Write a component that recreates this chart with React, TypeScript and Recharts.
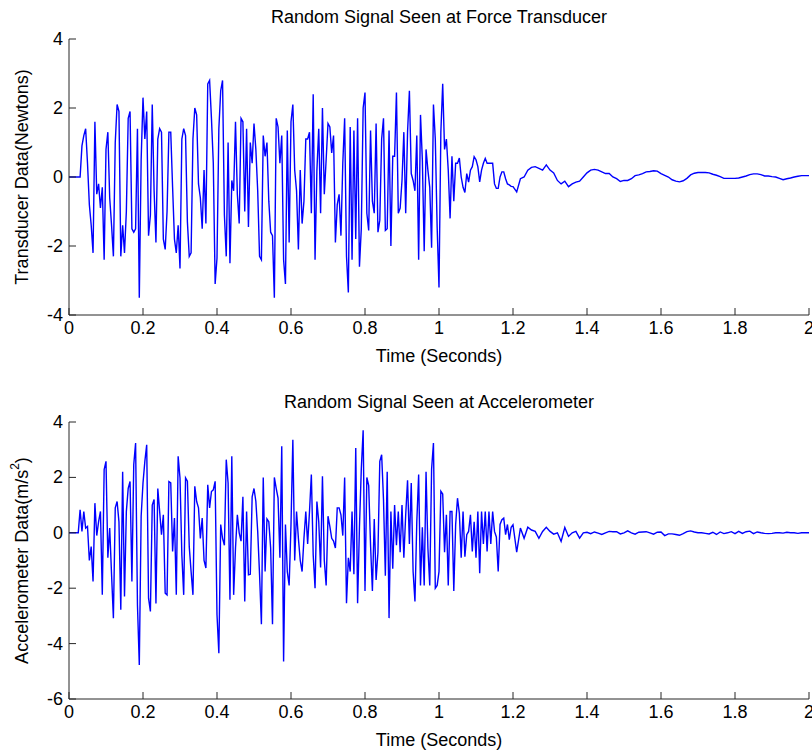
import { LineChart, Line, XAxis, YAxis } from 'recharts'

// sampling: dense part every 5 ms up to 1.2 s, then every 10 ms to 2 s
const BURST_STEP = 0.005
const DECAY_START = 1.21
const DECAY_STEP = 0.01

// force transducer, 0 .. 1.2 s
const forceBurst = [
  0, 0, 0, 0, 0, 0, 0, 0.9, 1.2, 1.4,
  0.4, -0.8, -1.4, -2.2, 1.6, -0.5, -0.2, -0.9, -0.3, -2.4,
  0.8, 1.3, -0.6, -1.4, -2.3, 1.0, 2.1, 1.9, -2.3, -1.4,
  -2.2, -1.0, 1.7, 1.9, -1.5, -1.6, -1.5, 1.4, -3.5, 0.5,
  2.3, 1.1, 1.9, -1.7, -1.1, 2.1, -0.4, -1.9, 1.1, 1.4,
  1.3, -1.8, -2.1, -1.0, 1.3, 1.3, -0.3, -1.8, -2.2, -1.4,
  -2.65, 1.1, 1.4, 1.2, -1.3, -2.3, -2.2, 1.1, 2.0, 1.8,
  -0.2, -0.6, -1.5, 0.2, -1.35, 2.7, 2.8, 1.7, 0.4, -3.1,
  -2.35, 1.4, 2.5, 2.8, -1.1, -2.3, 1.0, -2.5, -0.1, -0.4,
  1.6, -0.5, -1.35, 1.7, 1.6, -1.0, 1.4, -1.45, 1.0, 0.4,
  1.55, 0.8, -0.4, -2.3, -2.4, 1.2, 0.6, 1.0, -0.7, -1.6,
  -1.7, -3.5, 1.7, 1.45, 0.4, 1.2, -2.4, -3.1, 1.35, -1.9,
  1.6, 2.1, 0.2, -0.4, -2.1, 0.2, -1.35, -0.7, 1.1, 1.1,
  1.3, -1.05, 2.4, -2.4, 0.2, 1.4, -1.05, 2.0, -0.5, 0.5,
  1.55, 1.45, 0.7, 1.2, -1.9, -0.8, -0.5, -1.7, 0.4, 1.7,
  -2.3, -3.35, 1.45, -2.4, 1.35, -1.8, 1.7, -2.6, -1.5, 2.0,
  2.45, -1.05, -1.55, 1.35, -0.7, -1.05, 1.55, -1.6, -1.25, 1.1,
  1.7, -1.55, -1.5, 1.35, -2.0, 0.6, 0.6, 2.45, -1.05, -0.9,
  -0.1, 1.3, -1.05, 1.3, 2.5, 0.1, -0.1, -0.4, 1.2, -2.4,
  1.8, 0.5, -2.15, 0.8, 0.2, -0.3, -2.05, 2.1, 1.1, -1.45,
  -3.2, 1.3, 2.7, 0.8, 1.1, 0.2, -1.2, 0.6, -0.7, 0.4,
  0.4, 0.55, 0.0, -0.3, -0.45, 0.1, -0.15, 0.2, 0.3, 0.59,
  0.5, 0.3, -0.14, 0.2, 0.4, 0.54, 0.4, 0.4, 0.4, 0.4,
  -0.2, -0.33, -0.33, 0.0, 0.15, 0.15, -0.05, -0.2, -0.23, -0.27, -0.28,
]

// force transducer, 1.21 .. 2.0 s
const forceDecay = [
  -0.43, -0.05, 0.0, 0.2, 0.28, 0.3, 0.25, 0.2, 0.35, 0.2,
  0.12, -0.1, -0.2, -0.12, -0.28, -0.2, -0.15, -0.12, 0.0, 0.12,
  0.2, 0.22, 0.2, 0.15, 0.1, 0.1, 0.0, -0.05, -0.13, -0.1,
  -0.1, -0.05, 0.04, 0.06, 0.1, 0.15, 0.16, 0.18, 0.17, 0.1,
  0.05, 0.0, -0.08, -0.12, -0.14, -0.11, -0.04, 0.06, 0.11, 0.13,
  0.13, 0.13, 0.12, 0.08, 0.05, 0.01, -0.04, -0.04, -0.04, -0.04,
  -0.03, 0.0, 0.03, 0.07, 0.09, 0.09, 0.07, 0.03, 0.03, 0.01,
  0.0, -0.04, -0.08, -0.05, -0.03, 0.0, 0.02, 0.04, 0.04, 0.04,
]

// accelerometer, 0 .. 1.2 s
const accelBurst = [
  0, 0, 0, 0, 0, 0, 0.83, 0.05, 0.77, 0.17,
  0.23, -1.0, -0.5, -1.76, 1.07, -0.1, 0.4, 0.77, -2.24, 2.28,
  2.58, -0.9, 0.17, -1.5, -3.08, 0.9, 1.13, 0.4, -2.78, 2.2,
  -2.3, 0.77, 1.6, 1.85, -1.76, 2.46, 3.24, -2.6, -4.77, 0.6,
  1.8, 2.58, 3.18, -2.36, -2.84, 1.0, 1.2, -2.55, 1.6, 0.77,
  -0.07, 0.65, -2.18, -2.24, 1.85, 1.8, -0.67, 0.53, -2.24, 2.76,
  1.98, -0.8, -2.24, 1.98, 1.86, -0.5, -1.4, -2.24, 1.68, 1.13,
  0.9, -0.2, 0.53, -1.0, -1.27, 1.73, 0.9, 1.49, 1.55, 1.86,
  -2.96, -4.35, 0.3, -0.2, -0.45, 2.64, 1.8, -2.42, 2.76, -2.24,
  -0.55, 0.65, 0.0, -0.3, 1.3, -2.48, 0.77, -1.52, -1.5, 1.3,
  1.6, 1.14, 0.05, -1.5, -3.3, 2.0, -1.4, 0.5, 0.4, -0.55,
  -3.3, 2.0, 1.6, 1.25, -0.9, 3.12, -4.65, 0.3, -1.4, -1.9,
  0.3, 3.36, -1.0, 0.77, -0.2, -1.0, -1.4, -0.2, 0.77, -0.4,
  0.77, 2.1, -0.8, -2.0, 1.13, 0.4, -1.25, 2.04, -1.0, -1.9,
  0.6, 0.23, -0.2, -0.3, -0.55, 0.9, 0.9, 0.65, -0.1, 2.0,
  -2.54, -0.9, -1.4, 0.77, -1.5, 3.06, -2.54, 0.2, 2.3, 3.7,
  -2.1, 2.0, 1.7, -0.45, -2.1, 0.5, -1.7, -0.7, 2.58, 2.82,
  1.2, -1.55, 2.2, -3.08, 0.77, -1.3, 1.0, -0.45, 0.77, -0.7,
  1.0, -0.9, 0.65, 1.9, -0.4, 1.8, -1.4, -2.48, 0.4, 2.1,
  -1.9, 0.2, -1.9, 2.2, -0.55, -1.9, 2.3, 3.24, -2.0, -1.9,
  -1.4, 1.5, 1.4, -0.7, 0.65, -1.9, 0.77, 0.77, -2.1, 0.3,
  1.25, 0.7, -0.9, 0.77, -0.86, -0.07, 0.05, 0.65, -0.67, 0.4,
  -0.9, 0.77, -1.46, 0.77, -0.4, 0.77, -0.67, 0.77, -0.4, 0.77,
  0.05, -0.15, -1.4, 0.3, 0.47, 0.53, -0.07, 0.3, -0.25, 0.2, 0.29,
]

// accelerometer, 1.21 .. 2.0 s
const accelDecay = [
  -0.7, 0.17, -0.2, 0.2, 0.1, 0.05, -0.2, 0.05, 0.2, 0.05,
  -0.05, 0.0, -0.31, 0.19, -0.13, 0.0, 0.05, -0.19, 0.0, 0.02,
  -0.03, 0.03, -0.01, -0.06, 0.0, 0.05, 0.04, 0.04, -0.04, 0.0,
  0.07, 0.0, -0.05, 0.02, 0.03, 0.04, 0.0, -0.05, 0.02, 0.03,
  -0.1, -0.04, -0.04, -0.06, -0.09, -0.03, 0.04, 0.07, 0.03, 0.0,
  0.0, -0.02, -0.04, 0.02, -0.06, 0.03, -0.03, 0.0, 0.04, -0.03,
  0.05, -0.02, 0.04, 0.06, -0.03, 0.03, 0.0, -0.02, -0.03, -0.02,
  0.0, 0.0, -0.01, 0.02, 0.0, 0.0, -0.02, 0.0, 0.0, 0.0,
]

const timeTicks = [0, 0.2, 0.4, 0.6, 0.8, 1, 1.2, 1.4, 1.6, 1.8, 2]
const forceTicks = [-4, -2, 0, 2, 4]
const accelTicks = [-6, -4, -2, 0, 2, 4]

const FONT = '"Liberation Sans", Arial, sans-serif'
const FONT_SIZE = 18
const AXIS = '#262626'
const BLUE = '#0000ff'
const TICK_LEN = 7

function toSeries(burst: number[], decay: number[]) {
  return [
    ...burst.map((v, i) => ({ t: +(i * BURST_STEP).toFixed(3), v })),
    ...decay.map((v, i) => ({ t: +(DECAY_START + i * DECAY_STEP).toFixed(2), v })),
  ]
}

const forceData = toSeries(forceBurst, forceDecay)
const accelData = toSeries(accelBurst, accelDecay)

const textProps = { fill: '#000', fontSize: FONT_SIZE, fontFamily: FONT }

// matlab style: ticks point into the box
function BottomTick({ x, y, payload }: any) {
  return (
    <g>
      <line x1={x} x2={x} y1={y} y2={y - TICK_LEN} stroke={AXIS} />
      <text x={x} y={y + 13} textAnchor="middle" dominantBaseline="central" {...textProps}>
        {payload.value}
      </text>
    </g>
  )
}

function TopTick({ x, y }: any) {
  return <line x1={x} x2={x} y1={y} y2={y + TICK_LEN} stroke={AXIS} />
}

function LeftTick({ x, y, payload }: any) {
  return (
    <g>
      <line x1={x} x2={x + TICK_LEN} y1={y} y2={y} stroke={AXIS} />
      <text x={x - 6} y={y} textAnchor="end" dominantBaseline="central" {...textProps}>
        {payload.value}
      </text>
    </g>
  )
}

function RightTick({ x, y }: any) {
  return <line x1={x} x2={x - TICK_LEN} y1={y} y2={y} stroke={AXIS} />
}

function XLabel({ viewBox }: any) {
  return (
    <text
      x={viewBox.x + viewBox.width / 2}
      y={viewBox.y + 41}
      textAnchor="middle"
      dominantBaseline="central"
      {...textProps}
    >
      Time (Seconds)
    </text>
  )
}

function YLabel({ viewBox, text, sup }: any) {
  const cx = viewBox.x + 22
  const cy = viewBox.y + viewBox.height / 2
  return (
    <text
      x={cx}
      y={cy}
      transform={`rotate(-90 ${cx} ${cy})`}
      textAnchor="middle"
      dominantBaseline="central"
      {...textProps}
    >
      {text}
      {sup && (
        <tspan baselineShift="super" fontSize={12}>
          {sup}
        </tspan>
      )}
      {sup && ')'}
    </text>
  )
}

type PanelProps = {
  data: { t: number; v: number }[]
  top: number
  marginTop: number
  marginBottom: number
  yDomain: [number, number]
  yTicks: number[]
  yLabel: any
}

function Panel({ data, top, marginTop, marginBottom, yDomain, yTicks, yLabel }: PanelProps) {
  return (
    <div style={{ position: 'absolute', left: 0, top }}>
      <LineChart
        width={812}
        height={375}
        data={data}
        margin={{ top: marginTop, right: 3, bottom: marginBottom, left: 0 }}
      >
        <XAxis
          dataKey="t"
          type="number"
          domain={[0, 2]}
          ticks={timeTicks}
          interval={0}
          height={40}
          stroke={AXIS}
          tickLine={false}
          tickSize={0}
          tickMargin={0}
          tick={(p: any) => <BottomTick {...p} />}
          label={<XLabel />}
        />
        <XAxis
          xAxisId="top"
          orientation="top"
          dataKey="t"
          type="number"
          domain={[0, 2]}
          ticks={timeTicks}
          interval={0}
          height={0}
          stroke={AXIS}
          tickLine={false}
          tickSize={0}
          tickMargin={0}
          tick={(p: any) => <TopTick {...p} />}
        />
        <YAxis
          type="number"
          domain={yDomain}
          ticks={yTicks}
          interval={0}
          width={69}
          stroke={AXIS}
          tickLine={false}
          tickSize={0}
          tickMargin={0}
          tick={(p: any) => <LeftTick {...p} />}
          label={yLabel}
        />
        <YAxis
          yAxisId="right"
          orientation="right"
          type="number"
          domain={yDomain}
          ticks={yTicks}
          interval={0}
          width={0}
          stroke={AXIS}
          tickLine={false}
          tickSize={0}
          tickMargin={0}
          tick={(p: any) => <RightTick {...p} />}
        />
        <Line
          dataKey="v"
          type="linear"
          stroke={BLUE}
          strokeWidth={1.4}
          dot={false}
          isAnimationActive={false}
        />
      </LineChart>
    </div>
  )
}

const titleStyle = {
  position: 'absolute' as const,
  left: 0,
  width: 878,
  textAlign: 'center' as const,
  fontFamily: FONT,
  fontSize: FONT_SIZE,
  lineHeight: '22px',
  color: '#000',
}

export default function App() {
  return (
    <div
      style={{
        position: 'absolute',
        left: 0,
        top: 0,
        width: 812,
        height: 755,
        overflow: 'hidden',
        background: '#fff',
      }}
    >
      <Panel
        data={forceData}
        top={0}
        marginTop={39}
        marginBottom={20}
        yDomain={[-4, 4]}
        yTicks={forceTicks}
        yLabel={<YLabel text="Transducer Data(Newtons)" />}
      />
      <Panel
        data={accelData}
        top={380}
        marginTop={42}
        marginBottom={16}
        yDomain={[-6, 4]}
        yTicks={accelTicks}
        yLabel={<YLabel text="Accelerometer Data(m/s" sup="2" />}
      />
      <div style={{ ...titleStyle, top: 6 }}>Random Signal Seen at Force Transducer</div>
      <div style={{ ...titleStyle, top: 391 }}>Random Signal Seen at Accelerometer</div>
    </div>
  )
}
